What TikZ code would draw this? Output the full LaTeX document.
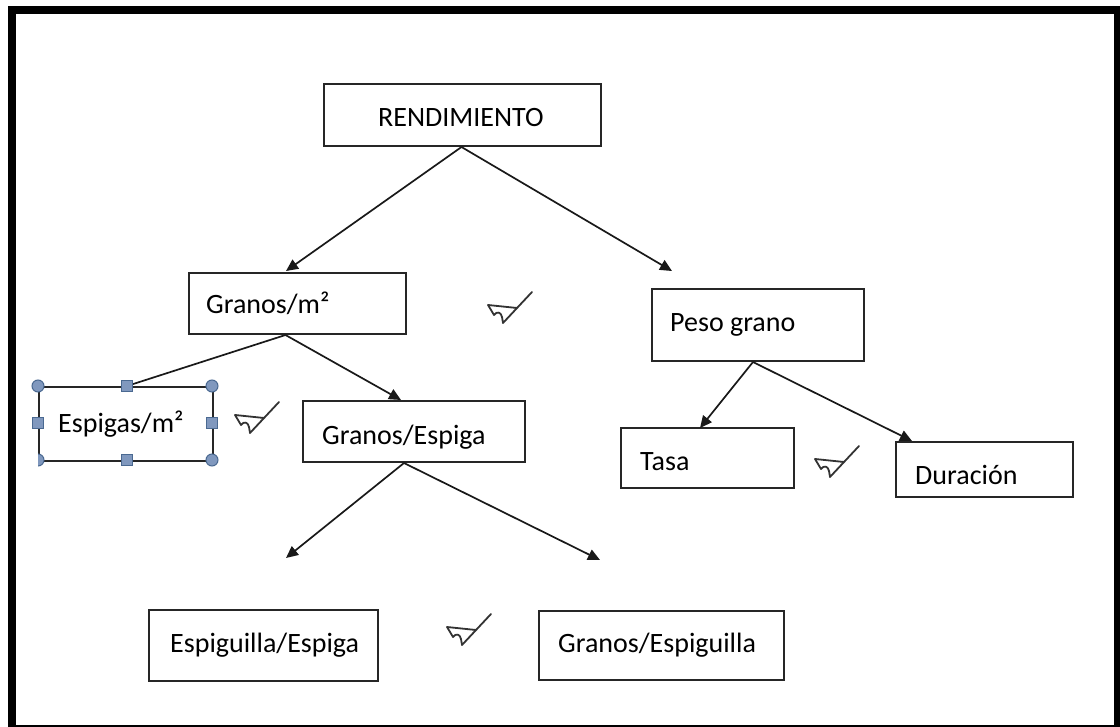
\documentclass[tikz,border=0pt]{standalone}
\usepackage{fontspec}
\setmainfont{Carlito}
\usetikzlibrary{arrows.meta}
\definecolor{hfill}{HTML}{8098BE}
\definecolor{hdraw}{HTML}{4A6991}
\begin{document}
\begin{tikzpicture}[x=1pt,y=-1pt,
  box/.style={draw=black!85,line width=2pt,inner sep=0,anchor=north west},
  lbl/.style={inner sep=0,anchor=base west,font=\fontsize{28}{34}\selectfont,text=black},
  conn/.style={line width=1.7pt,draw=black!90},
  arr/.style={conn,-{Triangle[length=12pt,width=11pt]}},
  chk/.pic={\draw[line width=1.8pt,black!80,line join=round,line cap=round]
     (29,-31) -- (0,0) -- (-1,-6) .. controls (-2,-11) and (-6,-12) .. (-9,-8) -- (-15,-18) -- (14,-15);},
  hc/.style={fill=hfill,draw=hdraw,line width=1pt},
]
\useasboundingbox (0,0) rectangle (1120,727);
\draw[line width=8pt] (12,10) rectangle (1118,729);

% boxes
\node[box,minimum width=277pt,minimum height=62pt] (rend) at (323,83) {};
\node[box,minimum width=217pt,minimum height=61pt] (gm) at (188,272) {};
\node[box,minimum width=212pt,minimum height=72pt] (peso) at (651,288) {};
\node[box,minimum width=174pt,minimum height=74pt] (esp) at (38,386) {};
\node[box,minimum width=222pt,minimum height=61pt] (ge) at (302,400) {};
\node[box,minimum width=173pt,minimum height=60pt] (tasa) at (620,427) {};
\node[box,minimum width=177pt,minimum height=55pt] (dur) at (895,441) {};
\node[box,minimum width=229pt,minimum height=71pt] (eesp) at (148,609) {};
\node[box,minimum width=245pt,minimum height=69pt] (gesp) at (538,610) {};

% labels
\node[lbl] (trend) at (378,127) {RENDIMIENTO};
\node[lbl] (tgm) at (206,314) {Granos/m²};
\node[lbl] (tpeso) at (670,332) {Peso grano};
\node[lbl] (tesp) at (58,432) {Espigas/m²};
\node[lbl] (tge) at (322,445) {Granos/Espiga};
\node[lbl] (ttasa) at (640,470) {Tasa};
\node[lbl] (tdur) at (915,484) {Duración};
\node[lbl] (teesp) at (170,652) {Espiguilla/Espiga};
\node[lbl] (tgesp) at (558,652) {Granos/Espiguilla};

% arrow end points
\coordinate (a1) at (286,271);
\coordinate (a2) at (672,271);
\coordinate (a3) at (127,386);
\coordinate (a4) at (401,400);
\coordinate (a5) at (286,558);
\coordinate (a6) at (600,560);
\coordinate (a7) at (700,428);
\coordinate (a8) at (912,441);

\draw[arr] ([xshift=-1pt]rend.south) -- (a1);
\draw[arr] ([xshift=-1pt]rend.south) -- (a2);
\draw[conn] ([xshift=-12pt]gm.south) -- (a3);
\draw[arr] ([xshift=-12pt]gm.south) -- (a4);
\draw[arr] ([xshift=-10pt]ge.south) -- (a5);
\draw[arr] ([xshift=-10pt]ge.south) -- (a6);
\draw[arr] ([xshift=-5pt]peso.south) -- (a7);
\draw[arr] ([xshift=-5pt]peso.south) -- (a8);

% selection handles
\foreach \p in {(38,386),(212,386),(212,460)} \draw[hc] \p circle (6);
\begin{scope}
  \clip (38,450) rectangle (52,470);
  \draw[hc] (38,460) circle (6);
\end{scope}
\foreach \p in {(127,386),(127,460),(38,423),(212,423)}
  \draw[hc] \p ++(-5.5,-5.5) rectangle ++(11,11);

% check marks
\pic at (503,323) {chk};
\pic at (250,433) {chk};
\pic at (830,477) {chk};
\pic at (462,645) {chk};
\end{tikzpicture}
\end{document}
